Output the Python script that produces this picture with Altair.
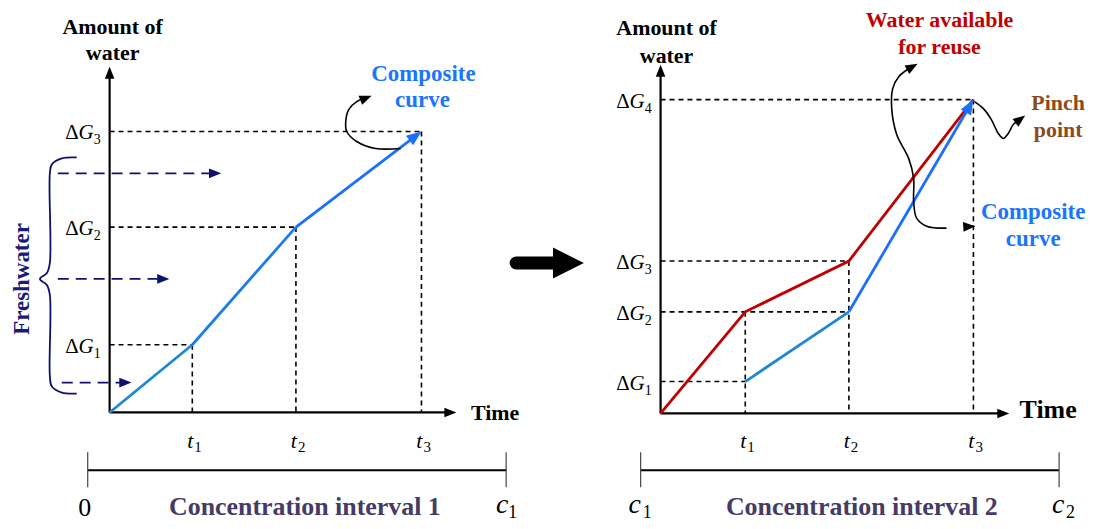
import math
import altair as alt
import pandas as pd

# ---------------- data (units = px right / up from each panel's origin) ----------------
# Left panel: concentration interval 1
L_T = [83, 187, 313]            # t1, t2, t3
L_G = [68, 186, 282]            # ΔG1, ΔG2, ΔG3
L_T_SUB = ["1", "2", "3"]
L_G_SUB = ["1", "2", "3"]

# Right panel: concentration interval 2
R_T = [85, 189, 314]            # t1, t2, t3
R_G = [32, 102, 153, 315]       # ΔG1 .. ΔG4
R_T_SUB = ["1", "2", "3"]
R_G_SUB = ["1", "2", "3", "4"]

# annotation paths (panel units)
L_CURL = [(292, 265), (267, 265), (248, 272), (238, 282), (237, 292), (240, 304), (248, 312), (263, 318)]
L_BRACE = [(-33, 256), (-48, 255), (-58, 249), (-60, 240), (-60, 150), (-63, 140), (-70, 134),
           (-63, 128), (-60, 118), (-60, 37), (-58, 26), (-48, 20), (-33, 19)]
L_FRESH_Y = [240, 134, 30]
L_FRESH_X0 = [-52, -52, -48]
L_FRESH_X1 = [112, 60, 22]
R_SCURVE = [(258, 351), (249, 346), (239, 338), (233, 326), (232, 306), (237, 280), (249, 256),
            (254, 236), (254, 213), (257, 196), (267, 188), (287, 186), (316, 188)]
R_PINCH = [(315, 313), (324, 306), (332, 295), (339, 281), (344, 276), (349, 281), (354, 290), (366, 299)]

W, H = 1078, 513
FONT = "Liberation Serif"
ARROW = "M0,0L-2,-0.8L-2,0.8Z"
BIG = "M0,0L-2,-1L-2,1Z"
NAVY = "#10106e"
BLUE1 = "#1f88d2"
BLUE2 = "#1b7ee6"
BLUE3 = "#1a6fff"
RED = "#c00000"


class Panel:
    def __init__(self, ox, oy):
        self.xs = alt.Scale(domain=[8 - ox, 8 + W - ox], nice=False, zero=False)
        self.ys = alt.Scale(domain=[oy - (8 + H), oy - 8], nice=False, zero=False)
        self.layers = []

    def X(self):
        return alt.X("x:Q", scale=self.xs, axis=None)

    def Y(self):
        return alt.Y("y:Q", scale=self.ys, axis=None)

    def line(self, groups, color, width, dash=None, interp="linear", cap="butt"):
        rows = []
        for g, pts in enumerate(groups):
            for o, (x, y) in enumerate(pts):
                rows.append(dict(x=x, y=y, g=g, o=o))
        mk = dict(color=color, strokeWidth=width, interpolate=interp, strokeCap=cap)
        if dash:
            mk["strokeDash"] = dash
        self.layers.append(
            alt.Chart(pd.DataFrame(rows)).mark_line(**mk).encode(
                x=self.X(), y=self.Y(), detail="g:N", order="o:Q"))

    def head(self, tip, prev, color, size, shape=ARROW):
        ang = math.degrees(math.atan2(-(tip[1] - prev[1]), tip[0] - prev[0])) % 360
        self.layers.append(
            alt.Chart(pd.DataFrame([dict(x=tip[0], y=tip[1])])).mark_point(
                shape=shape, filled=True, size=size, color=color, opacity=1,
                strokeWidth=0, angle=ang).encode(x=self.X(), y=self.Y()))

    def arrow(self, pts, color, width, size, dash=None, interp="linear", shrink=5, shape=ARROW):
        tip, prev = pts[-1], pts[-2]
        dx, dy = tip[0] - prev[0], tip[1] - prev[1]
        n = math.hypot(dx, dy)
        end = (tip[0] - dx / n * shrink, tip[1] - dy / n * shrink)
        self.line([list(pts[:-1]) + [end]], color, width, dash, interp)
        self.head(tip, prev, color, size, shape)

    def text(self, rows, size, color="black", weight="normal", style="normal",
             align="center", baseline="alphabetic", dx=0, dy=0, angle=0):
        self.layers.append(
            alt.Chart(pd.DataFrame(rows)).mark_text(
                font=FONT, fontSize=size, color=color, fontWeight=weight, fontStyle=style,
                align=align, baseline=baseline, dx=dx, dy=dy, angle=angle).encode(
                x=self.X(), y=self.Y(), text="s:N"))

    def glabels(self, gs, subs):
        self.text([dict(x=0, y=g, s="Δ") for g in gs], 21, align="right", dx=-31, dy=8)
        self.text([dict(x=0, y=g, s="G") for g in gs], 21, style="italic", align="right", dx=-16, dy=8)
        self.text([dict(x=0, y=g, s=s) for g, s in zip(gs, subs)], 14, align="left", dx=-16, dy=13)

    def tlabels(self, ts, subs, y):
        self.text([dict(x=t, y=y, s="t") for t in ts], 22, style="italic", align="right", dx=1)
        self.text([dict(x=t, y=y, s=s) for t, s in zip(ts, subs)], 15, align="left", dx=2, dy=4)

    def chart(self):
        return alt.layer(*self.layers)


DASH = [5, 4]

# ---------------- left panel ----------------
L = Panel(110, 412)
# dashed guides
L.line([[(0, g), (t, g)] for t, g in zip(L_T, L_G)], "black", 1.6, DASH)
L.line([[(t, g), (t, 0)] for t, g in zip(L_T, L_G)], "black", 1.6, DASH)
# axes
L.arrow([(0, 0), (0, 347)], "black", 2.2, 144, shrink=6)
L.arrow([(0, 0), (348, 0)], "black", 2.2, 144, shrink=6)
# composite curve
L.line([[(0, 0), (L_T[0], L_G[0])]], BLUE1, 2.8)
L.line([[(L_T[0], L_G[0]), (L_T[1], L_G[1])]], BLUE2, 2.8)
L.arrow([(L_T[1], L_G[1]), (L_T[2], L_G[2])], BLUE3, 2.8, 225, shrink=8)
# freshwater arrows and brace
for y, x0, x1 in zip(L_FRESH_Y, L_FRESH_X0, L_FRESH_X1):
    L.arrow([(x0, y), (x1, y)], NAVY, 1.8, 150, dash=[11, 7], shrink=6)
L.line([L_BRACE], NAVY, 1.8, interp="catmull-rom")
L.text([dict(x=-88, y=134, s="Freshwater")], 23, color="#1a1a78", weight="bold",
       baseline="middle", angle=270)
# curly pointer
L.arrow(L_CURL, "black", 1.6, 150, interp="catmull-rom", shrink=6)
# labels
L.glabels(L_G, L_G_SUB)
L.tlabels(L_T, L_T_SUB, -36)
L.text([dict(x=3, y=380, s="Amount of"), dict(x=3, y=354, s="water")], 22, weight="bold")
L.text([dict(x=387, y=-8, s="Time")], 22, weight="bold")
L.text([dict(x=315, y=333, s="Composite"), dict(x=314, y=307, s="curve")], 23,
       color="#1a75ff", weight="bold")
# concentration interval bar
L.line([[(-22, -58), (398, -58)]], "black", 2.2)
L.line([[(-22, -40), (-22, -75)], [(398, -40), (398, -75)]], "#444444", 1.2)
L.text([dict(x=196, y=-103, s="Concentration interval 1")], 26, color="#463a66", weight="bold")
L.text([dict(x=-25, y=-104, s="0")], 26)
L.text([dict(x=394, y=-101, s="c")], 28, style="italic")
L.text([dict(x=400, y=-106, s="1")], 18, align="left")
# transition arrow
L.line([[(408, 150), (452, 150)]], "black", 13, cap="round")
L.head((476, 150), (452, 150), "black", 961, BIG)

# ---------------- right panel ----------------
R = Panel(663, 413)
t1, t2, t3 = R_T
g1, g2, g3, g4 = R_G
R.line([[(0, g1), (t1, g1)], [(0, g2), (t2, g2)], [(0, g3), (t2, g3)], [(0, g4), (t3, g4)]],
       "black", 1.6, DASH)
R.line([[(t1, g2), (t1, 0)], [(t2, g3), (t2, 0)], [(t3, g4), (t3, 0)]], "black", 1.6, DASH)
R.arrow([(0, 0), (0, 350)], "black", 2.2, 144, shrink=6)
R.arrow([(0, 0), (350, 0)], "black", 2.2, 144, shrink=6)
# water available for reuse (red) and composite curve (blue)
R.line([[(0, 0), (t1, g2), (t2, g3), (t3, g4)]], RED, 2.8)
R.line([[(t1, g1), (t2, g2)]], BLUE1, 2.8)
R.arrow([(t2, g2), (t3, g4)], BLUE3, 2.8, 225, shrink=8)
# pointers
R.line([R_SCURVE[1:-1]], "black", 1.6, interp="catmull-rom")
R.head(R_SCURVE[0], R_SCURVE[1], "black", 150)
R.head(R_SCURVE[-1], R_SCURVE[-2], "black", 150)
R.arrow(R_PINCH, "black", 1.6, 150, interp="catmull-rom", shrink=6)
# labels
R.glabels(R_G, R_G_SUB)
R.tlabels(R_T, R_T_SUB, -35)
R.text([dict(x=6, y=380, s="Amount of"), dict(x=6, y=352, s="water")], 22, weight="bold")
R.text([dict(x=389, y=-5, s="Time")], 26, weight="bold")
R.text([dict(x=280, y=388, s="Water available"), dict(x=280, y=361, s="for reuse")], 22,
       color=RED, weight="bold")
R.text([dict(x=399, y=305, s="Pinch"), dict(x=399, y=277, s="point")], 22,
       color="#8c4b1e", weight="bold")
R.text([dict(x=374, y=195, s="Composite"), dict(x=374, y=168, s="curve")], 23,
       color="#1a75ff", weight="bold")
R.line([[(-20, -57), (400, -57)]], "black", 2.2)
R.line([[(-20, -39), (-20, -74)], [(400, -39), (400, -74)]], "#444444", 1.2)
R.text([dict(x=202, y=-102, s="Concentration interval 2")], 26, color="#463a66", weight="bold")
R.text([dict(x=-26, y=-100, s="c"), dict(x=399, y=-100, s="c")], 28, style="italic")
R.text([dict(x=-18, y=-105, s="1"), dict(x=407, y=-105, s="2")], 18, align="left")

chart = (
    alt.layer(L.chart(), R.chart())
    .resolve_scale(x="independent", y="independent")
    .properties(width=W, height=H, padding=0, background="white")
    .configure_view(strokeWidth=0)
)

chart.save("out.html", embed_options={"renderer": "svg", "actions": False})
